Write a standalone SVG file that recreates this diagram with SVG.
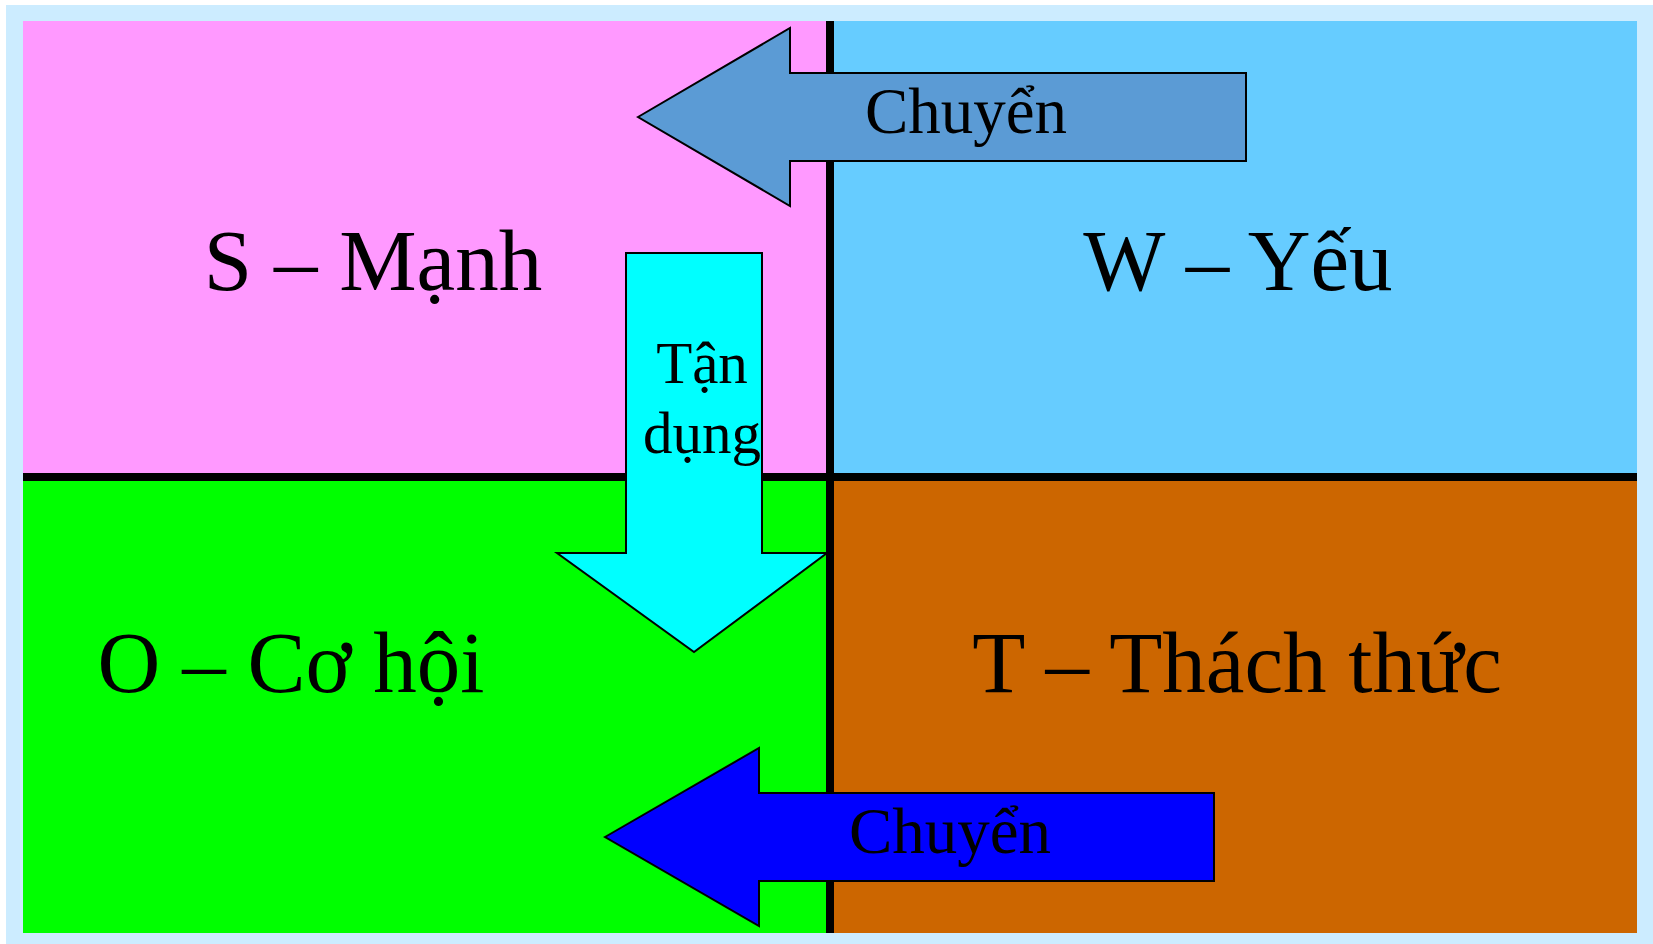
<svg xmlns="http://www.w3.org/2000/svg" width="1653" height="944" viewBox="0 0 1653 944">
<style>
.lbl{font-family:"Liberation Serif","Times New Roman",serif;fill:#000;text-anchor:middle}
.big{font-size:87px}
.arr{stroke:#000;stroke-width:2;stroke-linejoin:miter}
.div{stroke:#000;stroke-width:8}
</style>
<rect x="0" y="0" width="1653" height="944" fill="#FFFFFF"/>
<rect x="6" y="5" width="1647" height="939" fill="#CCECFF"/>
<g id="quad-s">
<rect x="23" y="21" width="807" height="456" fill="#FF99FF"/>
<text class="lbl big" x="373" y="290">S – Mạnh</text>
</g>
<g id="quad-w">
<rect x="830" y="21" width="807" height="456" fill="#66CCFF"/>
<text class="lbl big" x="1238" y="290">W – Yếu</text>
</g>
<g id="quad-o">
<rect x="23" y="477" width="807" height="456" fill="#00FF00"/>
<text class="lbl big" x="291" y="692">O – Cơ hội</text>
</g>
<g id="quad-t">
<rect x="830" y="477" width="807" height="456" fill="#CC6600"/>
<text class="lbl big" x="1237" y="692">T – Thách thức</text>
</g>
<g id="dividers">
<line class="div" x1="830" y1="21" x2="830" y2="933"/>
<line class="div" x1="23" y1="477" x2="1637" y2="477"/>
</g>
<g id="connectors">
<g id="arrow-w-s">
<polygon class="arr" fill="#5B9BD5" points="638,117 790,28 790,73 1246,73 1246,161 790,161 790,206"/>
<text class="lbl" font-size="65" x="966" y="133">Chuyển</text>
</g>
<g id="arrow-s-o">
<polygon class="arr" fill="#00FFFF" points="626,253 762,253 762,553 827,553 694,652 557,553 626,553"/>
<text class="lbl" font-size="59" x="702" y="383">Tận</text>
<text class="lbl" font-size="59" x="702" y="453">dụng</text>
</g>
<g id="arrow-t-o">
<polygon class="arr" fill="#0000FF" points="605,837 759,748 759,793 1214,793 1214,881 759,881 759,926"/>
<text class="lbl" font-size="65" x="950" y="853">Chuyển</text>
</g>
</g>
</svg>
